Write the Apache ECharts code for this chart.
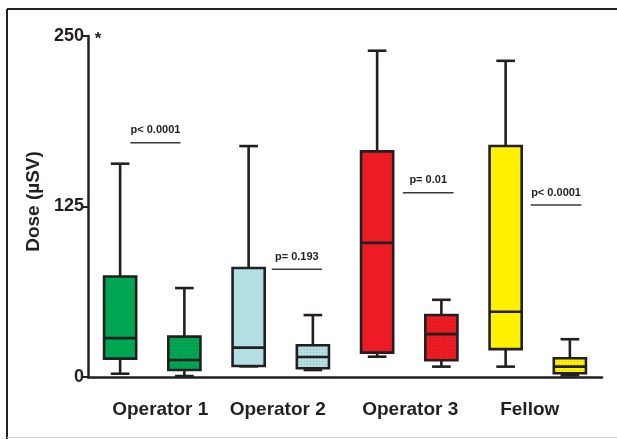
<!DOCTYPE html>
<html>
<head>
<meta charset="utf-8">
<script src="https://cdn.jsdelivr.net/npm/echarts@6/dist/echarts.min.js"></script>
<style>
html,body{margin:0;padding:0;background:#fff;}
#c{width:617px;height:439px;}
</style>
</head>
<body>
<div id="c"></div>
<script>
// ---- data ----
const categories = ['Operator 1', 'Operator 2', 'Operator 3', 'Fellow'];
const yTicks = [0, 125, 250];
// [min, Q1, median, Q3, max] for first (solid) box of each group
const boxSolid = [
  [2.4, 13.5, 28.5, 73.7, 156.4],
  [7.8, 8.1, 21.5, 79.9, 169.3],
  [14.9, 17.9, 98.3, 165.4, 239.2],
  [7.6, 20.4, 47.8, 169.3, 231.8]
];
// [min, Q1, median, Q3, max] for second (dotted) box of each group
const boxDotted = [
  [0.7, 5.1, 12.5, 29.6, 65.2],
  [5.1, 6.4, 14.7, 23.3, 45.4],
  [7.6, 12.3, 31.4, 45.4, 56.6],
  [1.2, 2.7, 7.6, 13.8, 27.7]
];
const pTexts = ['p< 0.0001', 'p= 0.193', 'p= 0.01', 'p< 0.0001'];
const pLineValues = [171.8, 79.0, 135.1, 126.1];

// ---- styling ----
const FONT = 'Arial, "Liberation Sans", sans-serif';
const INK = '#231f20';
const groupColors = ['#00a651', '#b3dfe2', '#ed1c24', '#fff200'];
// annotation horizontal extents in category-index units, relative to group's first box
const pSpan = [[0.16, 0.94], [0.36, 1.14], [0.40, 1.19], [0.39, 1.18]];
// small horizontal nudges (px) of the group labels
const labelShift = [8, -3, 1, -8];

function makePattern(color) {
  const cv = document.createElement('canvas');
  cv.width = 3; cv.height = 3;
  const ctx = cv.getContext('2d');
  ctx.fillStyle = color; ctx.fillRect(0, 0, 3, 3);
  ctx.fillStyle = 'rgba(0,0,0,0.16)';
  ctx.fillRect(1, 1, 1, 1);
  return { image: cv, repeat: 'repeat' };
}
const patterns = groupColors.map(makePattern);

const boxCats = [];
categories.forEach(c => { boxCats.push(c + ' a'); boxCats.push(c + ' b'); });

const solidData = boxSolid.map((b, i) => [2 * i].concat(b));
const dottedData = boxDotted.map((b, i) => [2 * i + 1].concat(b));

const labelData = categories.map((c, i) => ({
  value: c,
  textStyle: { padding: labelShift[i] >= 0 ? [0, 0, 0, 2 * labelShift[i]] : [0, -2 * labelShift[i], 0, 0] }
}));

function makeRender(dotted) {
  return function (params, api) {
    const idx = api.value(0);
    const pMin = api.coord([idx, api.value(1)]);
    const pQ1 = api.coord([idx, api.value(2)]);
    const pMed = api.coord([idx, api.value(3)]);
    const pQ3 = api.coord([idx, api.value(4)]);
    const pMax = api.coord([idx, api.value(5)]);
    const band = api.size([1, 0])[0];
    const bw = band * 0.5, cw = band * 0.29;
    const x = pMin[0];
    const g = params.dataIndex;
    const ls = { stroke: INK, lineWidth: 2.6 };
    return {
      type: 'group',
      children: [
        { type: 'line', shape: { x1: x, y1: pMax[1], x2: x, y2: pQ3[1] }, style: ls },
        { type: 'line', shape: { x1: x, y1: pQ1[1], x2: x, y2: pMin[1] }, style: ls },
        { type: 'line', shape: { x1: x - cw / 2, y1: pMax[1], x2: x + cw / 2, y2: pMax[1] }, style: ls },
        { type: 'line', shape: { x1: x - cw / 2, y1: pMin[1], x2: x + cw / 2, y2: pMin[1] }, style: ls },
        { type: 'rect', shape: { x: x - bw / 2, y: pQ3[1], width: bw, height: pQ1[1] - pQ3[1] },
          style: { fill: dotted ? patterns[g] : groupColors[g], stroke: INK, lineWidth: 2.6 } },
        { type: 'line', shape: { x1: x - bw / 2, y1: pMed[1], x2: x + bw / 2, y2: pMed[1] }, style: ls }
      ]
    };
  };
}

const chart = echarts.init(document.getElementById('c'), null, { renderer: 'canvas' });
chart.setOption({
  animation: false,
  backgroundColor: '#fff',
  grid: { left: 88, right: 15, top: 36, bottom: 62 },
  xAxis: [
    { type: 'category', data: boxCats, boundaryGap: true,
      axisLine: { show: true, lineStyle: { color: INK, width: 2.5 } },
      axisTick: { show: false }, axisLabel: { show: false }, splitLine: { show: false } },
    { type: 'category', data: labelData, position: 'bottom', boundaryGap: true,
      axisLine: { show: false }, axisTick: { show: false }, splitLine: { show: false },
      axisLabel: { show: true, margin: 23, color: INK, fontFamily: FONT, fontWeight: 'bold', fontSize: 19 } }
  ],
  yAxis: {
    type: 'value', min: yTicks[0], max: yTicks[yTicks.length - 1], interval: yTicks[1] - yTicks[0],
    name: 'Dose (µSV)', nameLocation: 'middle', nameGap: 42, nameRotate: 90,
    nameTextStyle: { color: INK, fontFamily: FONT, fontWeight: 'bold', fontSize: 19, padding: [0, 0, 0, 10] },
    axisLine: { show: true, lineStyle: { color: INK, width: 2.5 } },
    axisTick: { show: true, length: 5, lineStyle: { color: INK, width: 2 } },
    axisLabel: { color: INK, fontFamily: FONT, fontWeight: 'bold', fontSize: 18, margin: 4 },
    splitLine: { show: false }
  },
  series: [
    { type: 'custom', name: 'solid', xAxisIndex: 0, renderItem: makeRender(false),
      encode: { x: 0, y: [1, 2, 3, 4, 5] }, data: solidData, clip: false },
    { type: 'custom', name: 'dotted', xAxisIndex: 0, renderItem: makeRender(true),
      encode: { x: 0, y: [1, 2, 3, 4, 5] }, data: dottedData, clip: false }
  ]
});

// annotations positioned through the axes
const x0 = chart.convertToPixel({ xAxisIndex: 0 }, 0);
const x1 = chart.convertToPixel({ xAxisIndex: 0 }, 1);
const step = x1 - x0;
const graphics = [];
pTexts.forEach((t, i) => {
  const base = x0 + 2 * i * step;
  const ly = chart.convertToPixel({ yAxisIndex: 0 }, pLineValues[i]);
  const xa = base + pSpan[i][0] * step, xb = base + pSpan[i][1] * step;
  graphics.push({ type: 'line', shape: { x1: xa, y1: ly, x2: xb, y2: ly },
    style: { stroke: '#3a3a3a', lineWidth: 1.5 } });
  graphics.push({ type: 'text', x: (xa + xb) / 2, y: ly - 12.5,
    style: { text: t, fill: INK, font: 'bold 11px ' + FONT, align: 'center', verticalAlign: 'middle' } });
});
const yTop = chart.convertToPixel({ yAxisIndex: 0 }, yTicks[yTicks.length - 1]);
const xAxisLeft = x0 - step / 2;
graphics.push({ type: 'text', x: xAxisLeft + 10, y: yTop + 3,
  style: { text: '*', fill: INK, font: 'bold 17px ' + FONT, align: 'center', verticalAlign: 'middle' } });
// frame
graphics.push({ type: 'line', shape: { x1: 7, y1: 9, x2: 617, y2: 9 }, style: { stroke: '#222', lineWidth: 2 } });
graphics.push({ type: 'line', shape: { x1: 7, y1: 9, x2: 7, y2: 439 }, style: { stroke: '#222', lineWidth: 2 } });
graphics.push({ type: 'line', shape: { x1: 7, y1: 437.5, x2: 617, y2: 437.5 }, style: { stroke: '#cfcfcf', lineWidth: 1 } });
chart.setOption({ graphic: graphics });
</script>
</body>
</html>
